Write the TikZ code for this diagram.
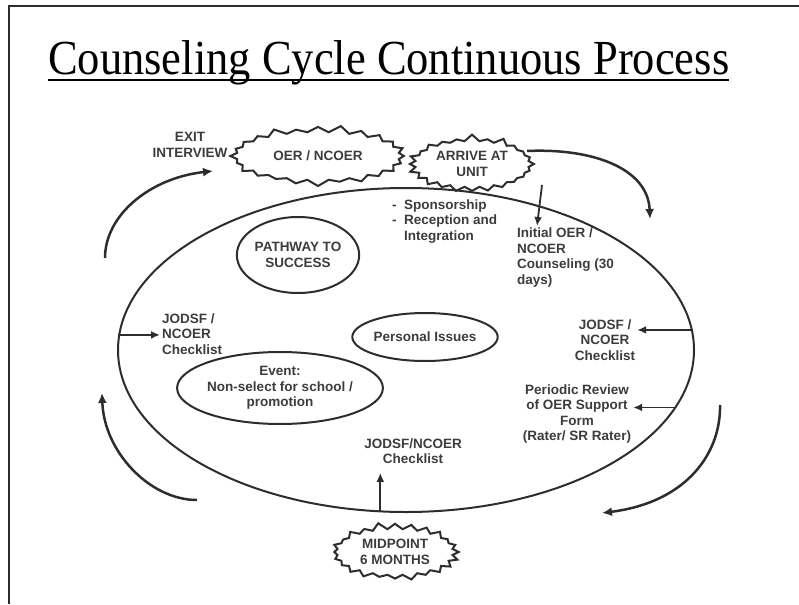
\documentclass[tikz,border=0pt]{standalone}
\usepackage{fontspec}
\setmainfont{Liberation Serif}
\setsansfont{Liberation Sans}
\usetikzlibrary{shapes.geometric,shapes.symbols,arrows.meta}
\definecolor{ink}{RGB}{45,45,45}
\definecolor{txt}{RGB}{60,60,60}
\begin{document}
\begin{tikzpicture}[x=1pt,y=-1pt,
  lbl/.style={font=\sffamily\bfseries\fontsize{13.5}{15.5}\selectfont, text=txt, inner sep=2pt},
  oval/.style={ellipse, draw=ink, line width=2pt, inner sep=0pt, font=\sffamily\bfseries\fontsize{13.5}{15.5}\selectfont, text=txt, align=center},
  burst/.style={starburst, draw=ink, line width=2pt, starburst points=24, starburst point height=7pt, inner sep=0pt, font=\sffamily\bfseries\fontsize{13.5}{15.5}\selectfont, text=txt, align=center},
  arr/.style={draw=ink, line width=2.5pt, -{Latex[length=10pt,width=9pt]}},
  sarr/.style={draw=ink, line width=1.8pt, -{Latex[length=9pt,width=8pt]}},
  ]
\useasboundingbox (0,0) rectangle (799,604);
% frame
\draw[ink, line width=2.5pt] (9,604) -- (9,6) -- (799,6);
% title
\node[anchor=base west, inner sep=0pt, font=\fontsize{44.5}{50}\selectfont] (title) at (48,75) {\scalebox{1}[1.1]{Counseling Cycle Continuous Process}};
\draw[line width=2.5pt] ([yshift=-5pt]title.base west) -- ([yshift=-5pt]title.base east);
% main cycle
\node[oval, minimum width=576pt, minimum height=324pt] (cycle) at (406,350) {};
% inner ovals
\node[oval, minimum width=116pt, minimum height=76pt] (path) at (298,255) {PATHWAY TO\\SUCCESS};
\node[oval, minimum width=116pt, minimum height=48pt] (pers) at (425,337) {Personal Issues};
\node[oval, minimum width=174pt, minimum height=72pt] (event) at (280,388) {Event:\\Non-select for school /\\promotion};
% bursts
\node[burst, minimum width=177pt, minimum height=62pt] (oer) at (318,156) {OER / NCOER};
\node[burst, minimum width=128pt, minimum height=60pt, random starburst=7] (arrive) at (472,164) {ARRIVE AT\\UNIT};
\node[burst, minimum width=130pt, minimum height=60pt, random starburst=11] (mid) at (395,552) {MIDPOINT\\6 MONTHS};
% labels
\node[lbl, align=center] (exit) at (190,145) {EXIT\\INTERVIEW};
\node[lbl, anchor=north west] (spons) at (390,196) {\begin{tabular}{@{}l@{\ \ }l@{}}-&Sponsorship\\-&Reception and\\&Integration\end{tabular}};
\node[lbl, align=left, anchor=north west] (init) at (515,226) {Initial OER /\\NCOER\\Counseling (30\\days)};
\node[lbl, align=left, anchor=west] (jl) at (160,334) {JODSF /\\NCOER\\Checklist};
\node[lbl, align=center] (jr) at (605,340) {JODSF /\\NCOER\\Checklist};
\node[lbl, align=center] (per) at (577,414) {Periodic Review\\of OER Support\\Form\\(Rater/ SR Rater)};
\node[lbl, align=center] (jb) at (413,451) {JODSF/NCOER\\Checklist};
% straight arrows
\draw[sarr] (cycle.177) -- (cycle.177 -| jl.west);
\draw[sarr] (cycle.4) -- (cycle.4 -| jr.east);
\draw[sarr] (cycle.348) -- (cycle.348 -| per.east);
\draw[sarr] (cycle.261) -- ([yshift=-7pt]cycle.261 |- jb.south);
\coordinate (a1) at (542,185);
\draw[sarr] (a1) -- ([xshift=22pt]init.north west);
% curved arrows
\coordinate (tl0) at (105,258);
\coordinate (tl1) at (213,171);
\draw[arr] (tl0) .. controls (105,215) and (150,178) .. (tl1);
\coordinate (tr0) at (527,151);
\coordinate (tr1) at (650,219);
\draw[arr] (tr0) .. controls (592,148) and (648,168) .. (tr1);
\coordinate (br0) at (720,405);
\coordinate (br1) at (602,513);
\draw[arr] (br0) .. controls (721,452) and (688,502) .. (br1);
\coordinate (bl0) at (197,500);
\coordinate (bl1) at (102,393);
\draw[arr] (bl0) .. controls (150,500) and (104,452) .. (bl1);
\end{tikzpicture}
\end{document}
